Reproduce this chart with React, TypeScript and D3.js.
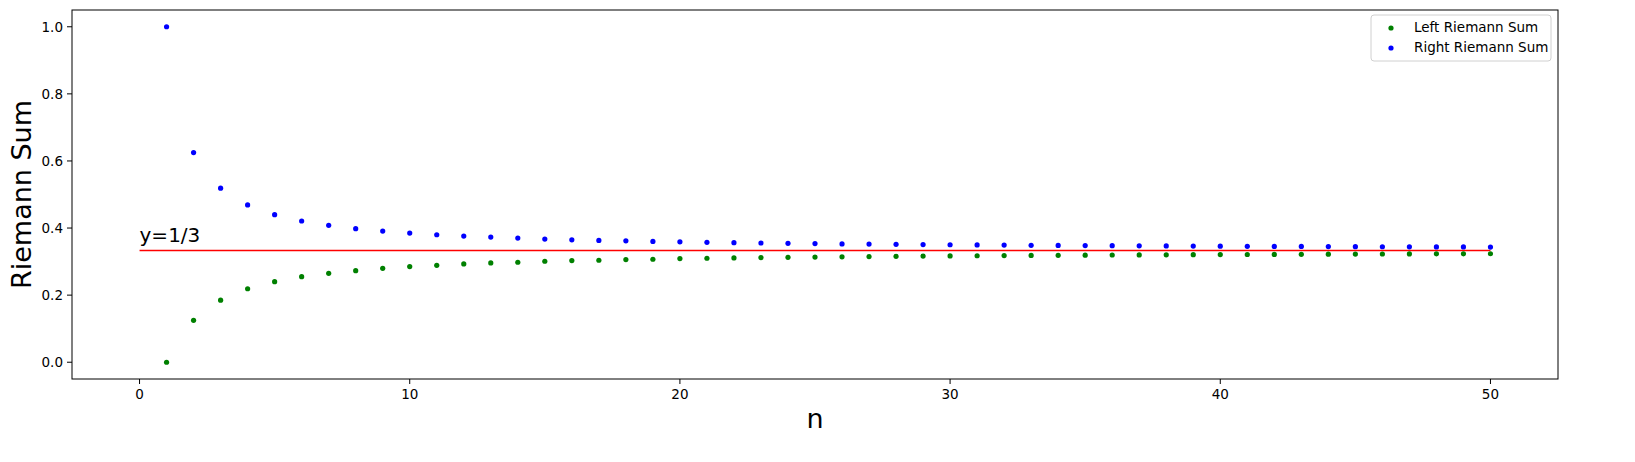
import React from "react";
import * as d3 from "d3";

const nValues = d3.range(1, 51);
const leftSums = [0, 0.125, 0.185, 0.219, 0.24, 0.255, 0.265, 0.273, 0.28, 0.285, 0.289, 0.293, 0.296, 0.298, 0.301, 0.303, 0.304, 0.306, 0.307, 0.309, 0.31, 0.311, 0.3119, 0.3128, 0.3136, 0.3143, 0.315, 0.3157, 0.3163, 0.3169, 0.3174, 0.3179, 0.3183, 0.3188, 0.3192, 0.3196, 0.3199, 0.3203, 0.3206, 0.3209, 0.3212, 0.3215, 0.3218, 0.3221, 0.3223, 0.3226, 0.3228, 0.323, 0.3232, 0.3234];
const rightSums = [1, 0.625, 0.519, 0.469, 0.44, 0.421, 0.408, 0.398, 0.391, 0.385, 0.38, 0.376, 0.373, 0.37, 0.367, 0.365, 0.363, 0.362, 0.36, 0.359, 0.3575, 0.3564, 0.3554, 0.3545, 0.3536, 0.3528, 0.3521, 0.3514, 0.3508, 0.3502, 0.3496, 0.3491, 0.3486, 0.3482, 0.3477, 0.3473, 0.347, 0.3466, 0.3463, 0.3459, 0.3456, 0.3453, 0.3451, 0.3448, 0.3445, 0.3443, 0.3441, 0.3438, 0.3436, 0.3434];
const xTicks = [0, 10, 20, 30, 40, 50];
const yTicks = [0, 0.2, 0.4, 0.6, 0.8, 1.0];

export default function App() {
  const W = 1635, H = 462;
  const L = 72, R = 1558, T = 10, B = 379;
  const x = d3.scaleLinear().domain([-2.5, 52.5]).range([L, R]);
  const y = d3.scaleLinear().domain([-0.05, 1.05]).range([B, T]);
  const font = "DejaVu Sans, sans-serif";
  return (
    <svg width={W} height={H} style={{ position: "absolute", left: 0, top: 0 }} fontFamily={font}>
      <rect width={W} height={H} fill="white" />
      <line x1={x(0)} x2={x(50)} y1={y(1 / 3)} y2={y(1 / 3)} stroke="red" strokeWidth={1.5} />
      <text x={x(0)} y={y(1 / 3) - 8} fontSize={20}>y=1/3</text>
      {nValues.map((n, i) => (
        <circle key={"l" + n} cx={x(n)} cy={y(leftSums[i])} r={2.6} fill="green" />
      ))}
      {nValues.map((n, i) => (
        <circle key={"r" + n} cx={x(n)} cy={y(rightSums[i])} r={2.6} fill="blue" />
      ))}
      <rect x={L} y={T} width={R - L} height={B - T} fill="none" stroke="black" strokeWidth={1} />
      {xTicks.map(t => (
        <g key={"x" + t}>
          <line x1={x(t)} x2={x(t)} y1={B} y2={B + 5} stroke="black" />
          <text x={x(t)} y={B + 20} fontSize={13.5} textAnchor="middle">{t}</text>
        </g>
      ))}
      {yTicks.map(t => (
        <g key={"y" + t}>
          <line x1={L - 5} x2={L} y1={y(t)} y2={y(t)} stroke="black" />
          <text x={L - 9} y={y(t) + 5} fontSize={13.5} textAnchor="end">{t.toFixed(1)}</text>
        </g>
      ))}
      <text x={(L + R) / 2} y={428} fontSize={27} textAnchor="middle">n</text>
      <text transform={`translate(31,${(T + B) / 2}) rotate(-90)`} fontSize={27} textAnchor="middle">Riemann Sum</text>
      <g>
        <rect x={1371} y={15} width={180} height={46} rx={3} fill="white" stroke="#d0d0d0" />
        <circle cx={1391} cy={28} r={2.6} fill="green" />
        <text x={1414} y={32} fontSize={13.5}>Left Riemann Sum</text>
        <circle cx={1391} cy={48} r={2.6} fill="blue" />
        <text x={1414} y={52} fontSize={13.5}>Right Riemann Sum</text>
      </g>
    </svg>
  );
}
